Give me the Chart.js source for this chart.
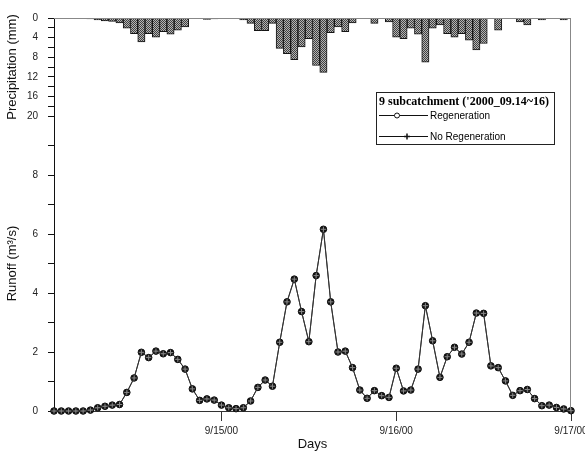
<!DOCTYPE html>
<html><head><meta charset="utf-8">
<script src="https://cdn.jsdelivr.net/npm/chart.js@4.4.0/dist/chart.umd.min.js"></script>
<style>html,body{margin:0;background:#fff}canvas{display:block}</style>
</head><body>
<canvas id="c" width="585" height="455"></canvas>
<script>
// hourly values, 9/14/00 01:00 .. 9/17/00 00:00
const regeneration=[0,0,0,0,0,0.03,0.11,0.16,0.2,0.22,
  0.63,1.12,1.99,1.81,2.03,1.94,1.98,1.75,1.42,0.75,
  0.36,0.41,0.37,0.2,0.11,0.08,0.11,0.34,0.8,1.05,
  0.84,2.33,3.7,4.47,3.37,2.35,4.59,6.16,3.7,2.0,
  2.03,1.47,0.71,0.43,0.69,0.52,0.46,1.45,0.68,0.71,
  1.42,3.57,2.38,1.14,1.84,2.16,1.93,2.33,3.32,3.31,
  1.53,1.47,1.02,0.53,0.69,0.73,0.42,0.18,0.2,0.12,
  0.07,0.01];
// the two runs overlap everywhere in the figure
const noRegeneration=[0,0,0,0,0,0.03,0.11,0.16,0.2,0.22,
  0.63,1.12,1.99,1.81,2.03,1.94,1.98,1.75,1.42,0.75,
  0.36,0.41,0.37,0.2,0.11,0.08,0.11,0.34,0.8,1.05,
  0.84,2.33,3.7,4.47,3.37,2.35,4.59,6.16,3.7,2.0,
  2.03,1.47,0.71,0.43,0.69,0.52,0.46,1.45,0.68,0.71,
  1.42,3.57,2.38,1.14,1.84,2.16,1.93,2.33,3.32,3.31,
  1.53,1.47,1.02,0.53,0.69,0.73,0.42,0.18,0.2,0.12,
  0.07,0.01];
const precipitation=[0,0,0,0,0,0.2,0.4,0.6,0.7,1.0,
  2.1,3.2,4.9,3.2,3.9,2.8,3.3,2.5,1.8,0,
  0,0.3,0.2,0,0,0,0.4,1.1,2.6,2.6,
  1.1,6.2,7.3,8.5,5.9,4.2,9.7,11.1,3.0,1.8,
  2.8,1.0,0,0,1.1,0,0.8,3.9,4.2,2.1,
  3.3,9.0,2.1,1.4,3.2,3.9,3.2,4.5,6.5,5.2,
  0,2.5,0,0,0.8,1.4,0,0.4,0,0,
  0.4,0];
const hours=regeneration.map((v,i)=>i+1);
const dayTicks=[24,48,72];
const dayLabels=['9/15/00','9/16/00','9/17/00'];
const runoffTicks=[0,1,2,3,4,5,6,7,8,9];
const precipTicks=[0,2,4,6,8,10,12,14,16,18,20];
const legendTitle="9 subcatchment ('2000_09.14~16)";

Chart.defaults.font.family='"Liberation Sans", Arial, sans-serif';
Chart.defaults.color='#222';

// stippled grey fill for the rain bars
const pc=document.createElement('canvas');pc.width=pc.height=2;
const p=pc.getContext('2d');
p.fillStyle='#b4b4b4';p.fillRect(0,0,2,2);
p.fillStyle='#404040';p.fillRect(0,0,1,1);p.fillRect(1,1,1,1);
const stipple=p.createPattern(pc,'repeat');

const frame={id:'frame',afterDraw(chart){
  const {ctx,chartArea:a}=chart;
  ctx.save();
  ctx.strokeStyle='#888';ctx.lineWidth=1;
  ctx.beginPath();
  ctx.moveTo(a.left,a.top+.5);ctx.lineTo(a.right,a.top+.5);
  ctx.moveTo(a.right-.5,a.top);ctx.lineTo(a.right-.5,a.bottom);
  ctx.stroke();
  ctx.restore();
}};

const legendBox={id:'legendBox',afterDraw(chart){
  const {ctx,chartArea:a}=chart;
  const x=a.right-195,y=a.top+74,w=178,h=52;
  ctx.save();
  ctx.fillStyle='#fff';ctx.fillRect(x,y,w,h);
  ctx.strokeStyle='#222';ctx.lineWidth=1;
  ctx.strokeRect(x+.5,y+.5,w,h);
  ctx.fillStyle='#000';ctx.textBaseline='middle';
  ctx.font='bold 12px "Liberation Serif"';
  ctx.fillText(legendTitle,x+3,y+10);
  ctx.font='10px "Liberation Sans"';
  const rows=[[chart.data.datasets[1].label,y+23,x+21,'circle'],[chart.data.datasets[2].label,y+44,x+31,'plus']];
  rows.forEach(([t,ry,mx,m])=>{
    ctx.strokeStyle='#111';ctx.lineWidth=1;
    ctx.beginPath();ctx.moveTo(x+3,ry+.5);ctx.lineTo(x+52,ry+.5);ctx.stroke();
    ctx.beginPath();
    if(m==='circle'){
      ctx.fillStyle='#fff';ctx.arc(mx,ry+.5,2.5,0,Math.PI*2);ctx.fill();ctx.stroke();
    }else{
      ctx.lineWidth=1.5;ctx.moveTo(mx-3,ry+.5);ctx.lineTo(mx+3,ry+.5);ctx.moveTo(mx,ry-2.5);ctx.lineTo(mx,ry+3.5);ctx.stroke();
    }
    ctx.fillStyle='#000';
    ctx.fillText(t,x+54,ry+1);
  });
  ctx.restore();
}};

new Chart(document.getElementById('c'),{
  type:'line',
  data:{labels:hours,datasets:[{
    type:'bar',
    label:'Precipitation',
    data:precipitation,
    yAxisID:'yP',
    backgroundColor:stipple,
    borderColor:'#151515',
    borderWidth:1,
    barPercentage:1,
    categoryPercentage:1,
    order:3
  },{
    label:'Regeneration',
    data:regeneration,
    yAxisID:'yR',
    borderColor:'#333',
    borderWidth:1,
    pointStyle:'circle',
    pointRadius:3.3,
    pointBackgroundColor:'#111',
    pointBorderColor:'#111',
    clip:false,
    order:2
  },{
    label:'No Regeneration',
    data:noRegeneration,
    yAxisID:'yR',
    borderColor:'#333',
    borderWidth:1,
    pointStyle:'cross',
    pointRadius:2.6,
    pointBorderColor:'#8a8a8a',
    pointBorderWidth:1,
    clip:false,
    order:1
  }]},
  options:{
    responsive:false,
    animation:false,
    devicePixelRatio:1,
    layout:{padding:{left:1,top:18,right:14,bottom:4}},
    plugins:{legend:{display:false},tooltip:{enabled:false}},
    scales:{
      x:{type:'linear',min:1,max:72,offset:false,
        afterBuildTicks:s=>{s.ticks=dayTicks.map(v=>({value:v}))},
        afterFit:s=>{s.paddingLeft=0;s.paddingRight=0;s.height=40},
        ticks:{autoSkip:false,maxRotation:0,padding:4,font:{size:10},callback:v=>dayLabels[dayTicks.indexOf(v)]},
        grid:{drawOnChartArea:false,offset:false,tickLength:10,color:'#333'},
        border:{color:'#333'},
        title:{display:true,text:'Days',color:'#111',font:{size:13,lineHeight:1},padding:{top:1,bottom:0}}},
      yR:{type:'linear',position:'left',stack:'left',stackWeight:295,min:0,max:10,
        afterBuildTicks:s=>{s.ticks=runoffTicks.map(v=>({value:v}))},
        afterFit:s=>{s.width=53},
        ticks:{autoSkip:false,padding:10,font:{size:10},callback:v=>v%2===0&&v<=8?v:''},
        grid:{drawOnChartArea:false,tickLength:6,color:'#111'},
        border:{color:'#111'},
        title:{display:true,text:'Runoff (m³/s)',color:'#111',font:{size:13},padding:{top:4,bottom:4}}},
      yP:{type:'linear',position:'left',stack:'left',stackWeight:98,reverse:true,min:0,max:20,
        afterBuildTicks:s=>{s.ticks=precipTicks.map(v=>({value:v}))},
        afterFit:s=>{s.width=53},
        ticks:{autoSkip:false,padding:10,font:{size:10},callback:v=>v%4===0?v:''},
        grid:{drawOnChartArea:false,tickLength:6,color:'#111'},
        border:{color:'#111'},
        title:{display:true,text:'Precipitation (mm)',color:'#111',font:{size:13},padding:{top:4,bottom:4}}}
    }
  },
  plugins:[frame,legendBox]
});
</script>
</body></html>
